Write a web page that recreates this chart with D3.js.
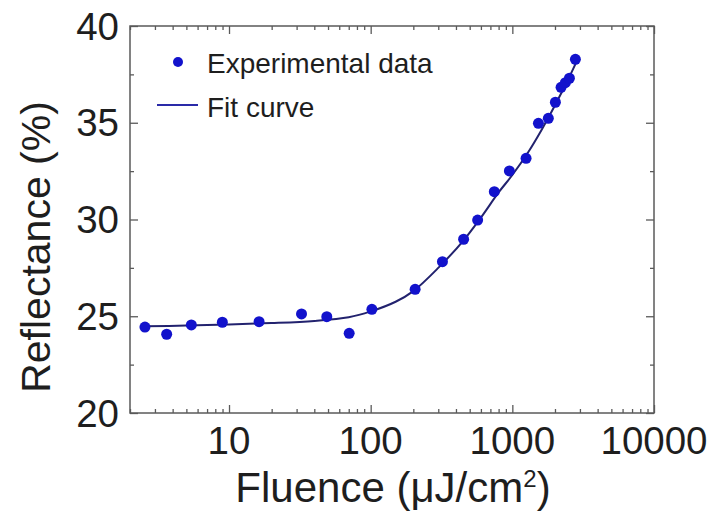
<!DOCTYPE html>
<html>
<head>
<meta charset="utf-8">
<script src="https://cdn.jsdelivr.net/npm/d3@7/dist/d3.min.js"></script>
<style>
  html, body { margin: 0; padding: 0; background: #fff; }
  svg { display: block; font-family: "Liberation Sans", Arial, Helvetica, sans-serif; }
</style>
</head>
<body>
<svg id="chart" width="718" height="514"></svg>
<script>
// Measured reflectance versus pump fluence
const fluence = [2.55, 3.63, 5.42, 8.97, 16.3, 32.5, 49, 70.5, 102, 206, 321, 453, 569, 746, 953, 1250, 1528, 1795, 2013, 2208, 2368, 2528, 2787];
const reflectance = [24.44, 24.07, 24.55, 24.69, 24.72, 25.12, 24.98, 24.12, 25.36, 26.39, 27.82, 28.98, 29.97, 31.44, 32.51, 33.16, 34.97, 35.23, 36.06, 36.83, 37.07, 37.3, 38.28];

// Fitted curve, sampled
const fitFluence = [2.5, 5, 10, 20, 40, 70, 100, 150, 200, 300, 450, 600, 800, 1000, 1300, 1600, 2000, 2500, 2900];
const fitReflectance = [24.48, 24.52, 24.58, 24.65, 24.76, 24.95, 25.25, 25.75, 26.3, 27.5, 28.9, 30.1, 31.4, 32.3, 33.5, 34.6, 35.9, 37.3, 38.3];

// Axis ticks
const xMajorTicks = [10, 100, 1000, 10000];
const yMajorTicks = [20, 25, 30, 35, 40];
const yMinorTicks = [22.5, 27.5, 32.5, 37.5];

const legendLabels = ["Experimental data", "Fit curve"];

(function () {
  const svg = d3.select("#chart");
  const plotLeft = 130, plotRight = 654, plotTop = 26, plotBottom = 413;

  const x = d3.scaleLog().domain([2, 10000]).range([plotLeft, plotRight]);
  const y = d3.scaleLinear().domain([20, 40]).range([plotBottom, plotTop]);

  // minor log ticks: 2..9 of every decade inside the domain
  const xMinorTicks = [];
  for (let p = 0; p <= 3; p++) {
    for (let m = 2; m <= 9; m++) {
      const v = m * Math.pow(10, p);
      if (v >= 2 && v <= 10000) xMinorTicks.push(v);
    }
  }

  const frameColor = "#5a5a5a";
  const textColor = "#1e1e1e";

  function styleAxis(g) {
    g.select(".domain").remove();
    g.selectAll(".tick line").attr("stroke", frameColor).attr("stroke-width", 1.3);
  }

  function addAxis(axisFn, scale, pos, values, size) {
    const horiz = axisFn === d3.axisBottom || axisFn === d3.axisTop;
    svg.append("g")
      .attr("transform", horiz ? `translate(0,${pos})` : `translate(${pos},0)`)
      .call(axisFn(scale).tickValues(values).tickSize(size).tickFormat(""))
      .call(styleAxis);
  }

  // inward ticks on all four sides
  addAxis(d3.axisBottom, x, plotBottom, xMinorTicks, -4);
  addAxis(d3.axisBottom, x, plotBottom, xMajorTicks, -8);
  addAxis(d3.axisTop, x, plotTop, xMinorTicks, -4);
  addAxis(d3.axisTop, x, plotTop, xMajorTicks, -8);
  addAxis(d3.axisLeft, y, plotLeft, yMinorTicks, -4);
  addAxis(d3.axisLeft, y, plotLeft, yMajorTicks, -8);
  addAxis(d3.axisRight, y, plotRight, yMinorTicks, -4);
  addAxis(d3.axisRight, y, plotRight, yMajorTicks, -8);

  // frame
  svg.append("rect")
    .attr("x", plotLeft).attr("y", plotTop)
    .attr("width", plotRight - plotLeft).attr("height", plotBottom - plotTop)
    .attr("fill", "none").attr("stroke", frameColor).attr("stroke-width", 1.5);

  // tick labels
  svg.append("g").selectAll("text").data(xMajorTicks).join("text")
    .attr("x", d => x(d)).attr("y", 454)
    .attr("text-anchor", "middle")
    .attr("font-size", 38.5).attr("fill", textColor)
    .text(d => d);

  svg.append("g").selectAll("text").data(yMajorTicks).join("text")
    .attr("x", 119).attr("y", d => y(d) + 13.5)
    .attr("text-anchor", "end")
    .attr("font-size", 38.5).attr("fill", textColor)
    .text(d => d);

  // axis titles
  const xTitle = svg.append("text")
    .attr("x", 393).attr("y", 502)
    .attr("text-anchor", "middle")
    .attr("font-size", 42).attr("fill", textColor);
  xTitle.append("tspan").text("Fluence (\u03BCJ/cm");
  xTitle.append("tspan").attr("font-size", 24).attr("dy", -15).text("2");
  xTitle.append("tspan").attr("dy", 15).text(")");

  svg.append("text")
    .attr("transform", "translate(50,247) rotate(-90)")
    .attr("text-anchor", "middle")
    .attr("font-size", 41).attr("fill", textColor)
    .text("Reflectance (%)");

  // fit curve
  const line = d3.line()
    .x((d, i) => x(fitFluence[i]))
    .y(d => y(d))
    .curve(d3.curveCatmullRom.alpha(0.5));

  svg.append("path")
    .datum(fitReflectance)
    .attr("d", line)
    .attr("fill", "none")
    .attr("stroke", "#22226e")
    .attr("stroke-width", 2);

  // experimental points
  svg.append("g").selectAll("circle").data(reflectance).join("circle")
    .attr("cx", (d, i) => x(fluence[i]))
    .attr("cy", d => y(d))
    .attr("r", 5.5)
    .attr("fill", "#1212cc");

  // legend
  const legend = svg.append("g");
  legend.append("circle").attr("cx", 178).attr("cy", 62).attr("r", 5).attr("fill", "#1212cc");
  legend.append("line").attr("x1", 157).attr("x2", 198).attr("y1", 105).attr("y2", 105)
    .attr("stroke", "#2a2aa8").attr("stroke-width", 2);
  legend.selectAll("text").data(legendLabels).join("text")
    .attr("x", 207).attr("y", (d, i) => 73 + i * 44)
    .attr("font-size", 28).attr("fill", textColor)
    .text(d => d);
})();
</script>
</body>
</html>
